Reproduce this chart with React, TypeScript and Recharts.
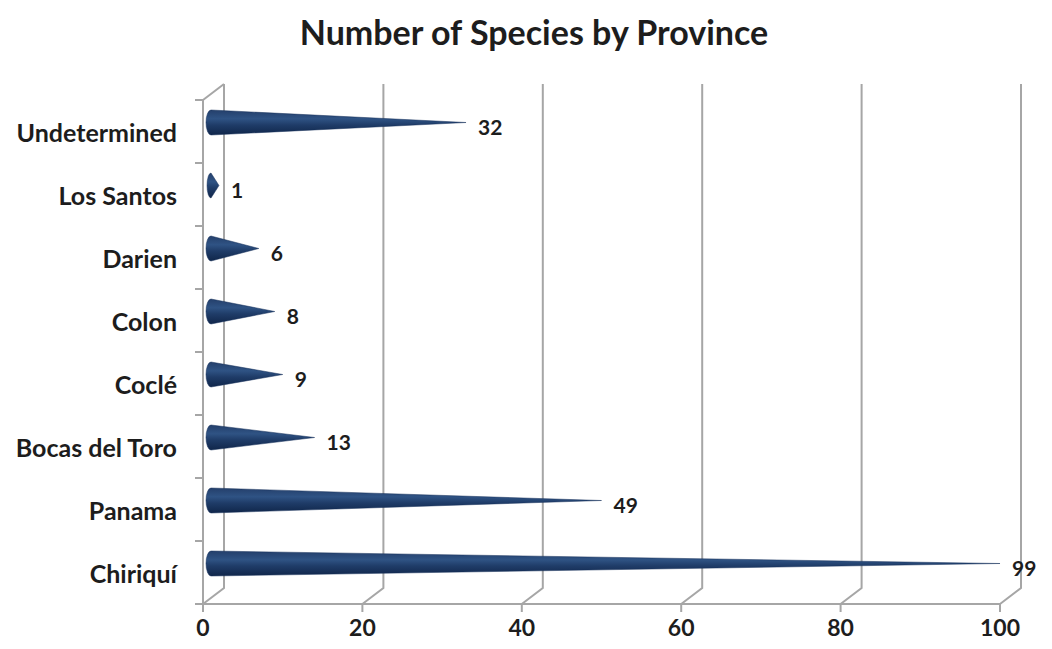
import React from 'react';
import { BarChart, Bar, XAxis, YAxis, CartesianGrid, LabelList } from 'recharts';

const provinces = ['Undetermined', 'Los Santos', 'Darien', 'Colon', 'Coclé', 'Bocas del Toro', 'Panama', 'Chiriquí'];
const speciesCounts = [32, 1, 6, 8, 9, 13, 49, 99];
const xTicks = [0, 20, 40, 60, 80, 100];

const data = provinces.map((name, i) => ({ name, species: speciesCounts[i] }));

const W = 1052;
const H = 649;
const X_AXIS_H = 30;
const MARGIN = { top: 100, right: 52, bottom: 45 - X_AXIS_H, left: 0 };
const GRID = '#a6a6a6';
const FONT = 'Lato, "Open Sans", sans-serif';
const TEXT = '#1d1d1d';
// 3D depth offsets: back wall and cone plane
const BACK_DX = 21;
const BACK_DY = -16;
const CONE_DX = 8;
const CONE_DY = -9;

const bandHalf = (H - MARGIN.top - MARGIN.bottom - X_AXIS_H) / provinces.length / 2;

const Cone = (props: any) => {
  const { x, y, width, height } = props;
  const r = height / 2;
  const cy = y + r + CONE_DY;
  const bx = x + CONE_DX;
  const tx = x + width + CONE_DX;
  const rx = Math.min(5, Math.max(2, (tx - bx) / 2));
  const d = `M ${bx} ${cy - r} L ${tx} ${cy} L ${bx} ${cy + r} A ${rx} ${r} 0 0 1 ${bx} ${cy - r} Z`;
  return <path d={d} fill="url(#coneFill)" stroke="#17305a" strokeWidth={0.5} />;
};

const ValueLabel = (props: any) => {
  const { x, y, width, height, value } = props;
  const cy = y + height / 2 + CONE_DY + 4;
  return (
    <text x={x + width + CONE_DX + 12} y={cy} dominantBaseline="central" fill={TEXT}
      fontFamily={FONT} fontWeight={700} fontSize={21}>
      {value}
    </text>
  );
};

const CategoryTick = (props: any) => {
  const { x, y, payload, index } = props;
  return (
    <g>
      <line x1={x - 8} y1={y - bandHalf} x2={x} y2={y - bandHalf} stroke={GRID} strokeWidth={2} />
      {index === provinces.length - 1 && (
        <line x1={x - 8} y1={y + bandHalf} x2={x} y2={y + bandHalf} stroke={GRID} strokeWidth={2} />
      )}
      <text x={x - 26} y={y} textAnchor="end" dominantBaseline="central" fill={TEXT}
        fontFamily={FONT} fontWeight={700} fontSize={25}>
        {payload.value}
      </text>
    </g>
  );
};

const GridLine = (props: any) => {
  const { x1, y1, y2, index } = props;
  let d = `M ${x1 + BACK_DX} ${y1 + BACK_DY} L ${x1 + BACK_DX} ${y2 + BACK_DY} L ${x1} ${y2}`;
  if (index === 0) d += ` M ${x1} ${y1} L ${x1 + BACK_DX} ${y1 + BACK_DY}`;
  return <path d={d} stroke={GRID} strokeWidth={2} fill="none" />;
};

export default function App() {
  return (
    <div style={{ position: 'absolute', left: 0, top: 0, width: W, height: H, background: '#fff' }}>
      <div style={{
        position: 'absolute', left: 0, width: W, top: 11, textAlign: 'center',
        fontFamily: FONT, fontWeight: 700, fontSize: 34, color: TEXT, paddingLeft: 16,
        boxSizing: 'border-box',
      }}>
        Number of Species by Province
      </div>
      <BarChart width={W} height={H} data={data} layout="vertical" margin={MARGIN} barSize={25}>
        <defs>
          <linearGradient id="coneFill" x1="0" y1="0" x2="0" y2="1">
            <stop offset="0%" stopColor="#243f6b" />
            <stop offset="35%" stopColor="#2f5384" />
            <stop offset="60%" stopColor="#1f3c68" />
            <stop offset="100%" stopColor="#10264a" />
          </linearGradient>
        </defs>
        <CartesianGrid horizontal={false} vertical={GridLine} />
        <XAxis type="number" domain={[0, 100]} ticks={xTicks} interval={0} height={X_AXIS_H}
          axisLine={{ stroke: GRID, strokeWidth: 2 }}
          tickLine={{ stroke: GRID, strokeWidth: 2 }} tickSize={8} tickMargin={8}
          tick={{ fill: TEXT, fontFamily: FONT, fontWeight: 700, fontSize: 23 }} />
        <YAxis type="category" dataKey="name" width={203} interval={0}
          axisLine={{ stroke: GRID, strokeWidth: 2 }} tickLine={false} tickSize={0} tickMargin={0}
          tick={<CategoryTick />} />
        <Bar dataKey="species" shape={<Cone />} isAnimationActive={false}>
          <LabelList dataKey="species" content={<ValueLabel />} />
        </Bar>
      </BarChart>
    </div>
  );
}
